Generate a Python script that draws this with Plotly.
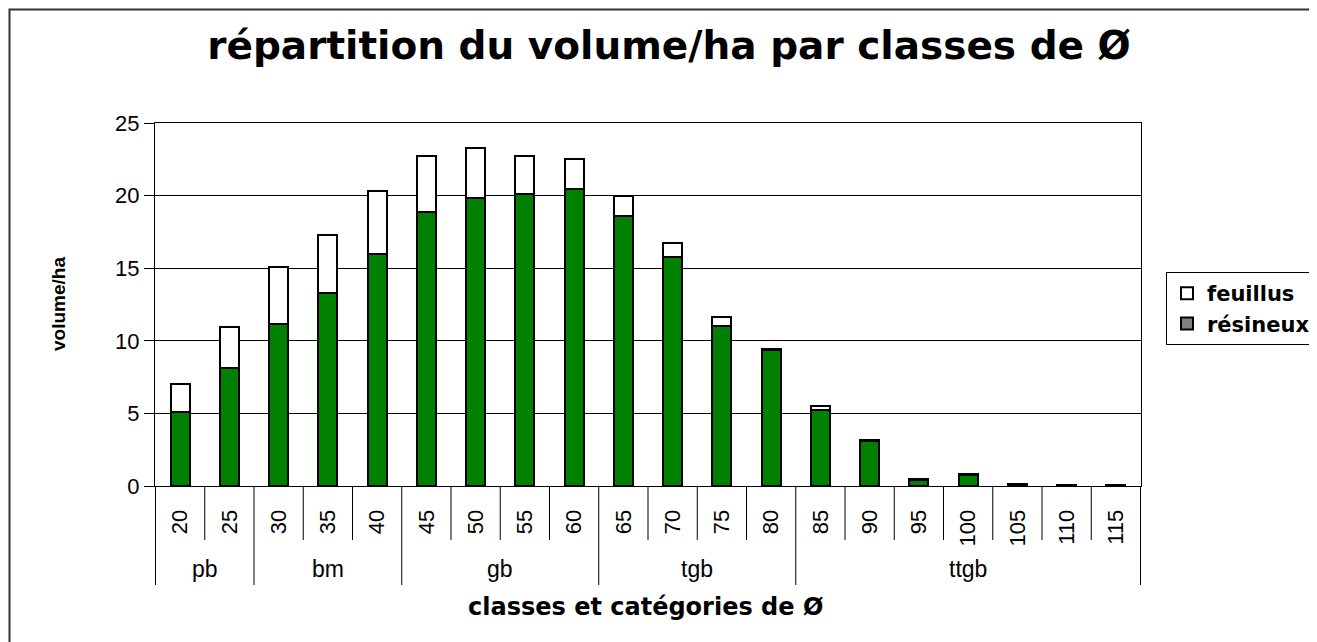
import plotly.graph_objects as go

# ---- data ----
classes = ["20", "25", "30", "35", "40", "45", "50", "55", "60", "65",
           "70", "75", "80", "85", "90", "95", "100", "105", "110", "115"]
group_names = ["pb", "bm", "gb", "tgb", "ttgb"]
group_sizes = [2, 3, 4, 4, 7]
resineux = [5.1, 8.15, 11.15, 13.3, 16.0, 18.85, 19.85, 20.1, 20.45, 18.6,
            15.75, 11.05, 9.35, 5.25, 3.1, 0.4, 0.75, 0.15, 0.05, 0.05]
feuillus = [1.95, 2.8, 3.95, 4.0, 4.35, 3.85, 3.45, 2.6, 2.05, 1.35,
            1.0, 0.6, 0.1, 0.25, 0.1, 0.05, 0.05, 0.02, 0.02, 0.02]
y_ticks = [0, 5, 10, 15, 20, 25]

title_text = "répartition du volume/ha par classes de Ø"
x_title = "classes et catégories de Ø"
y_title = "volume/ha"

# ---- layout geometry (pixels in the screenshot; page body has an 8px margin) ----
OFF = 8
W, H = 1317 - OFF, 642 - OFF
LEFT, RIGHT, TOP, BOTTOM = 155, 1141, 123, 486   # plot area in screenshot pixels
ML, MT = LEFT - OFF, TOP - OFF
MR, MB = W - (RIGHT - OFF), H - (BOTTOM - OFF)
PW, PH = RIGHT - LEFT, BOTTOM - TOP


def px_x(p):
    return (p - LEFT) / PW


def px_y(p):
    return (BOTTOM - p) / PH


GREEN = "#008000"
fig = go.Figure()
fig.add_trace(go.Bar(x=classes, y=resineux, name="résineux", showlegend=False,
                     marker=dict(color=GREEN, line=dict(color="black", width=2))))
fig.add_trace(go.Bar(x=classes, y=feuillus, name="feuillus", showlegend=False,
                     marker=dict(color="white", line=dict(color="black", width=2))))

# legend entries (the reference legend shows a grey swatch for résineux)
fig.add_trace(go.Scatter(x=[None], y=[None], mode="markers", name="feuillus",
                         marker=dict(symbol="square", size=11, color="white",
                                     line=dict(color="black", width=1.5))))
fig.add_trace(go.Scatter(x=[None], y=[None], mode="markers", name="résineux",
                         marker=dict(symbol="square", size=11, color="#808080",
                                     line=dict(color="black", width=1.5))))

shapes = []
inner_end = px_y(540)
group_end = px_y(585)
bounds = [0]
for s in group_sizes:
    bounds.append(bounds[-1] + s)
for i in range(len(classes) + 1):
    y1 = group_end if i in bounds else inner_end
    shapes.append(dict(type="line", xref="x", yref="paper", x0=i - 0.5, x1=i - 0.5,
                       y0=0, y1=y1, line=dict(color="black", width=1)))
# outer chart border (only left and top edges fall inside the picture)
bx0, by0, bx1, by1 = px_x(9.5), px_y(660), px_x(1330), px_y(9.5)
shapes.append(dict(type="path", xref="paper", yref="paper",
                   path=f"M {bx0},{by0} L {bx0},{by1} L {bx1},{by1}",
                   line=dict(color="#333333", width=2), layer="below"))

annotations = []
for name, a, b in zip(group_names, bounds[:-1], bounds[1:]):
    annotations.append(dict(x=(a + b - 1) / 2, y=px_y(569), xref="x", yref="paper",
                            text=name, showarrow=False, yanchor="middle",
                            font=dict(family="Liberation Sans, Arial", size=23, color="black")))
annotations.append(dict(x=px_x(645), y=px_y(607), xref="paper", yref="paper", text=x_title,
                        showarrow=False, yanchor="middle", xanchor="center",
                        font=dict(family="DejaVu Sans", size=24, color="black", weight="bold")))
annotations.append(dict(x=px_x(58), y=px_y(304), xref="paper", yref="paper", text=y_title,
                        showarrow=False, textangle=-90, xanchor="center", yanchor="middle",
                        font=dict(family="Liberation Sans, Arial", size=19, color="black", weight="bold")))

fig.update_layout(
    width=W, height=H,
    margin=dict(l=ML, r=MR, t=MT, b=MB, pad=0, autoexpand=False),
    paper_bgcolor="white", plot_bgcolor="white",
    barmode="stack", bargap=0.61,
    title=dict(text=title_text, x=(669 - OFF) / W, xref="container", xanchor="center",
               y=1 - (45 - OFF) / H, yref="container", yanchor="middle",
               font=dict(family="DejaVu Sans", size=39, color="black", weight="bold")),
    xaxis=dict(type="category", categoryorder="array", categoryarray=classes,
               tickangle=-90, ticks="", ticklabelstandoff=14,
               tickfont=dict(family="Liberation Sans, Arial", size=22, color="black"),
               showline=True, linecolor="black", linewidth=1, mirror=True,
               showgrid=False, fixedrange=True),
    yaxis=dict(range=[0, 25], tickvals=y_ticks, ticks="outside", ticklen=10,
               tickcolor="black", tickwidth=1,
               tickfont=dict(family="Liberation Sans, Arial", size=22, color="black"),
               showline=True, linecolor="black", linewidth=1, mirror=True,
               showgrid=True, gridcolor="black", gridwidth=1, zeroline=False,
               fixedrange=True),
    legend=dict(x=px_x(1166), y=px_y(272), xanchor="left", yanchor="top",
                traceorder="normal",
                bordercolor="black", borderwidth=1, bgcolor="white",
                font=dict(family="DejaVu Sans", size=21, color="black", weight="bold"),
                itemsizing="constant"),
    shapes=shapes, annotations=annotations,
)

fig.write_html("out.html")
